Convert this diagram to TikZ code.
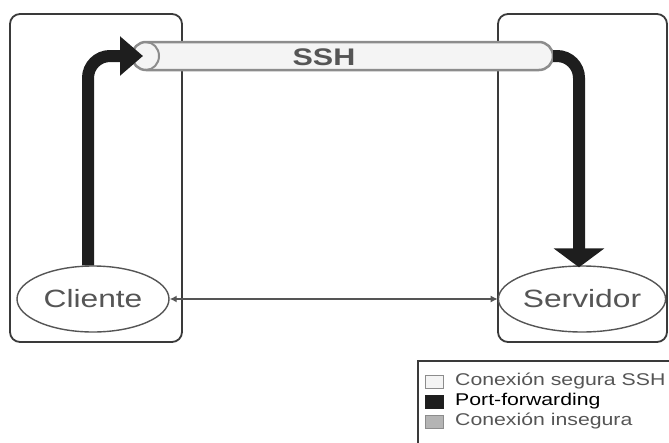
\documentclass[tikz,border=0pt]{standalone}
\usepackage{fontspec}
\usetikzlibrary{arrows.meta,shapes.geometric}
\newfontfamily\wsans[FakeStretch=1.27]{Liberation Sans}
\newfontfamily\lgsans[FakeStretch=1.25]{Liberation Sans}
\definecolor{boxline}{HTML}{3A3A3A}
\definecolor{txtgray}{HTML}{555555}
\definecolor{tubeline}{HTML}{8C8C8C}
\definecolor{tubefill}{HTML}{F4F4F4}
\definecolor{pfblack}{HTML}{1E1E1E}
\definecolor{insec}{HTML}{B4B4B4}
\tikzset{
  hostbox/.style={draw=boxline, line width=1.8pt, rounded corners=10pt},
  hostnode/.style={ellipse, draw=txtgray, line width=1.4pt, fill=white, inner sep=0pt,
    minimum height=66pt, text=txtgray, font=\wsans\fontsize{25}{30}\selectfont},
  pf/.style={draw=pfblack, line width=12pt, rounded corners=22pt},
  lgtext/.style={anchor=west, inner sep=0pt, font=\lgsans\fontsize{17}{20}\selectfont},
  lgsq/.style={line width=1pt, draw=tubeline},
  insecure/.style={draw=txtgray, line width=1.8pt, {Latex[length=7pt,width=7pt]}-{Latex[length=7pt,width=7pt]}}
}
\begin{document}
\begin{tikzpicture}[x=1pt,y=-1pt]
\useasboundingbox (0,0) rectangle (669,442);
% host boxes
\draw[hostbox] (10,14) rectangle (182,342);
\draw[hostbox] (498,14) rectangle (667,342);
% SSH tube
\coordinate (tubeL) at (143,56);
\coordinate (tubeR) at (553,56);
\draw[draw=tubeline, fill=tubefill, line width=2.5pt]
  (146,42) -- (539,42) arc[start angle=90, end angle=-90, radius=14pt]
  -- (146,70) arc[start angle=270, end angle=90, x radius=14pt, y radius=14pt] -- cycle;
\draw[draw=tubeline, line width=2pt] (146,42) arc[start angle=90, end angle=-90, x radius=13pt, y radius=14pt];
\node[font=\wsans\bfseries\fontsize{24}{28}\selectfont, text=txtgray, inner sep=0pt] (ssh) at (324,57) {SSH};
% hosts
\node[hostnode, minimum width=152pt] (cli) at (93,299) {Cliente};
\node[hostnode, minimum width=158pt] (srv) at (582,299) {Servidor};
% insecure connection
\draw[insecure] (cli.east) -- (srv.west);
% port forwarding arrows
\draw[pf, -{Triangle[length=23pt,width=38pt]}] ([xshift=-5pt]cli.north) |- (tubeL);
\draw[pf, -{Triangle[length=19pt,width=50pt]}] (tubeR) -| ([xshift=-3pt,yshift=-2pt]srv.north);
% legend
\draw[draw=boxline, line width=1.5pt] (418,446) -- (418,361) -- (672,361);
\draw[lgsq, fill=tubefill] (425,375) rectangle (443,388);
\draw[lgsq, draw=pfblack, fill=pfblack] (425,395) rectangle (443,408);
\draw[lgsq, fill=insec] (425,415) rectangle (443,428);
\node[lgtext, text=txtgray] (lg1) at (455,381) {Conexión segura SSH};
\node[lgtext, text=black] (lg2) at (455,401) {Port-forwarding};
\node[lgtext, text=txtgray] (lg3) at (455,421) {Conexión insegura};
\end{tikzpicture}
\end{document}
